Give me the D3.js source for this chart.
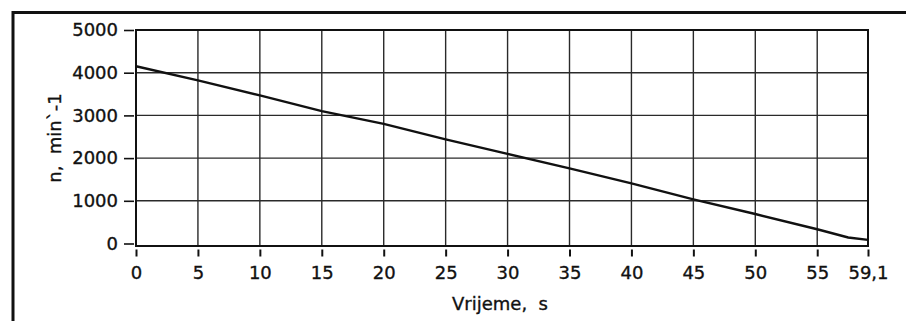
<!DOCTYPE html>
<html><head><meta charset="utf-8">
<script src="https://cdn.jsdelivr.net/npm/d3@7"></script>
<style>body{margin:0;background:#fff}svg{display:block}</style>
</head><body>
<svg id="c" width="906" height="321"></svg>
<script>
const timeS = [0, 5, 10, 15, 20, 25, 30, 35, 40, 45, 50, 55, 57.5, 59.1];
const speedRpm = [4150, 3820, 3470, 3100, 2800, 2440, 2100, 1760, 1410, 1035, 690, 333, 140, 85];
const xTicks = [0, 5, 10, 15, 20, 25, 30, 35, 40, 45, 50, 55, 59.1];
const yTicks = [0, 1000, 2000, 3000, 4000, 5000];
const xLabel = "Vrijeme,  s";
const yLabel = "n,  min`-1";

const svg = d3.select("#c");
const L = 136, R = 868, T = 30, B = 243.5;
const x = d3.scaleLinear().domain([0, 59.1]).range([L, R]);
const y = d3.scaleLinear().domain([0, 5000]).range([B, T]);
const font = "DejaVu Sans, Verdana, sans-serif";

function styleText(sel) {
  sel.attr("font-family", font).attr("font-size", 18).attr("fill", "#111")
    .attr("stroke", "#111").attr("stroke-width", 0.35);
}

// outer frame
svg.append("path").attr("d", "M13,321V12.5H906").attr("fill", "none")
  .attr("stroke", "#111").attr("stroke-width", 3);

// grid
const g = svg.append("g");
g.selectAll(".vg").data(xTicks.filter(d => d > 0 && d < 59.1)).join("line")
  .attr("x1", d => x(d)).attr("x2", d => x(d)).attr("y1", T).attr("y2", B + 2.5)
  .attr("stroke", "#2a2a2a").attr("stroke-width", 1.4);
g.selectAll(".hg").data(yTicks.filter(d => d > 0 && d < 5000)).join("line")
  .attr("x1", L).attr("x2", R).attr("y1", d => y(d)).attr("y2", d => y(d))
  .attr("stroke", "#2a2a2a").attr("stroke-width", 1.4);

// plot border
svg.append("rect").attr("x", L).attr("y", T).attr("width", R - L).attr("height", B + 2.5 - T)
  .attr("fill", "none").attr("stroke", "#111").attr("stroke-width", 2);

// y axis
const yAxis = d3.axisLeft(y).tickValues(yTicks).tickSize(10).tickPadding(6).tickFormat(d3.format("d"));
const ya = svg.append("g").attr("transform", `translate(${L - 2},0)`).call(yAxis);
ya.select(".domain").remove();
ya.selectAll("line").attr("stroke", "#111").attr("stroke-width", 1.6);
styleText(ya.selectAll("text"));

// x axis
const xAxis = d3.axisBottom(x).tickValues(xTicks).tickSize(7).tickPadding(10)
  .tickFormat(d => String(d).replace(".", ","));
const xa = svg.append("g").attr("transform", `translate(0,${B + 6})`).call(xAxis);
xa.select(".domain").remove();
xa.selectAll("line").attr("stroke", "#111").attr("stroke-width", 2);
styleText(xa.selectAll("text"));

// line
svg.append("path").datum(timeS.map((t, i) => [t, speedRpm[i]]))
  .attr("d", d3.line().x(d => x(d[0])).y(d => y(d[1])))
  .attr("fill", "none").attr("stroke", "#111").attr("stroke-width", 2.4);

// labels
styleText(svg.append("text").attr("x", 500).attr("y", 310).attr("text-anchor", "middle")
  .style("white-space", "pre").text(xLabel));
styleText(svg.append("text").attr("transform", "translate(61,138) rotate(-90)").attr("text-anchor", "middle")
  .style("white-space", "pre").text(yLabel));
</script>
</body></html>
